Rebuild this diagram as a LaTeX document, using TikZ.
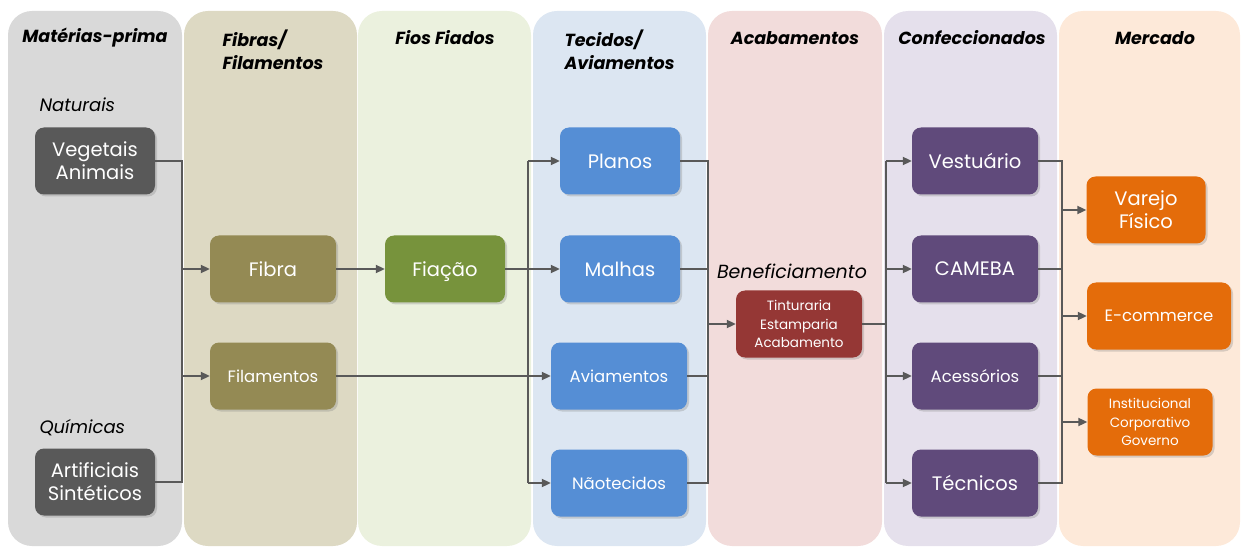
\documentclass[tikz,border=0pt]{standalone}
\usepackage{fontspec}
\setmainfont{Poppins}
\usetikzlibrary{arrows.meta,shadows}
\definecolor{linegray}{HTML}{595959}
\definecolor{lanemat}{HTML}{D9D9D9}
\definecolor{lanefib}{HTML}{DDD9C3}
\definecolor{lanefio}{HTML}{EBF1DE}
\definecolor{lanetec}{HTML}{DCE6F2}
\definecolor{laneaca}{HTML}{F2DCDB}
\definecolor{lanecon}{HTML}{E5E0EC}
\definecolor{lanemer}{HTML}{FDE9D9}
\definecolor{boxmat}{HTML}{595959}
\definecolor{boxfib}{HTML}{948A54}
\definecolor{boxfio}{HTML}{77933C}
\definecolor{boxtec}{HTML}{558ED5}
\definecolor{boxaca}{HTML}{953735}
\definecolor{boxcon}{HTML}{604A7B}
\definecolor{boxmer}{HTML}{E46C0A}

\begin{document}
\begin{tikzpicture}[x=1pt,y=-1pt,
  lane/.style={rounded corners=24pt},
  box/.style={rounded corners=9pt, text=white, align=center, inner sep=0pt,
    minimum width=120pt, minimum height=67pt,
    drop shadow={shadow xshift=2pt,shadow yshift=-2pt,opacity=0.3}},
  big/.style={font=\fontsize{19.5}{23}\selectfont},
  mid/.style={font=\fontsize{16.5}{19}\selectfont},
  small/.style={font=\fontsize{13.5}{18.5}\selectfont},
  title/.style={font=\fontsize{17.5}{23}\selectfont\bfseries\itshape, align=left},
  sub/.style={font=\fontsize{18}{20}\selectfont\itshape},
  conn/.style={draw=linegray, line width=2pt},
  arr/.style={conn, -{Triangle[length=9pt,width=8pt]}}]
  \useasboundingbox (0,0) rectangle (1243,548);

  \fill[lane, lanemat] (8,11) rectangle (182,546);
  \fill[lane, lanefib] (184,11) rectangle (357,546);
  \fill[lane, lanefio] (358,11) rectangle (531,546);
  \fill[lane, lanetec] (533,11) rectangle (706,546);
  \fill[lane, laneaca] (708,11) rectangle (882,546);
  \fill[lane, lanecon] (884,11) rectangle (1057,546);
  \fill[lane, lanemer] (1059,11) rectangle (1240,546);

  \node[title] (tmat) at (95,38) {Matérias-prima};
  \node[title, anchor=west] (tfib) at (219,49.5) {Fibras/\\Filamentos};
  \node[title] (tfio) at (445,38) {Fios Fiados};
  \node[title, anchor=west] (ttec) at (561,49.5) {Tecidos/\\Aviamentos};
  \node[title] (taca) at (795,38) {Acabamentos};
  \node[title] (tcon) at (972,38) {Confeccionados};
  \node[title] (tmer) at (1155,38) {Mercado};

  \node[sub, anchor=west] (nat) at (36,105) {Naturais};
  \node[sub, anchor=west] (qui) at (36,428) {Químicas};
  \node[sub, font=\fontsize{19}{20}\selectfont\itshape] (benef) at (792,271) {Beneficiamento};

  \node[box, big, fill=boxmat] (veg) at (95,161) {Vegetais\\Animais};
  \node[box, big, fill=boxmat] (art) at (95,482) {Artificiais\\Sintéticos};
  \node[box, big, fill=boxfib, minimum width=126pt] (fibra) at (273,269) {Fibra};
  \node[box, mid, fill=boxfib, minimum width=126pt] (filam) at (273,376) {Filamentos};
  \node[box, big, fill=boxfio] (fiacao) at (445,269) {Fia\smash{ç}ão};
  \node[box, big, fill=boxtec] (planos) at (620,161) {Planos};
  \node[box, big, fill=boxtec] (malhas) at (620,269) {Malhas};
  \node[box, mid, fill=boxtec, minimum width=136pt] (aviam) at (619,376) {Aviamentos};
  \node[box, mid, fill=boxtec, minimum width=136pt] (naot) at (619,483) {Nãotecidos};
  \node[box, small, fill=boxaca, minimum width=126pt] (tint) at (799,324) {Tinturaria\\Estamparia\\Acabamento};
  \node[box, big, fill=boxcon, minimum width=126pt] (vest) at (975,161) {Vestuário};
  \node[box, big, fill=boxcon, minimum width=126pt] (cameba) at (975,269) {CAMEBA};
  \node[box, mid, fill=boxcon, minimum width=126pt] (acess) at (975,376) {Acessórios};
  \node[box, big, fill=boxcon, minimum width=126pt] (tecn) at (975,483) {Técnicos};
  \node[box, big, fill=boxmer, minimum width=119pt] (varejo) at (1146,210) {Varejo\\Físico};
  \node[box, mid, fill=boxmer, minimum width=144pt] (ecom) at (1159,316) {E-commerce};
  \node[box, small, fill=boxmer, minimum width=125pt] (inst) at (1150,422) {Institucional\\Corporativo\\Governo};

  \coordinate (m1) at (182,0);
  \coordinate (m2) at (528,0);
  \coordinate (m3) at (708,0);
  \coordinate (m4) at (886,0);
  \coordinate (m5) at (1062,0);

  \draw[conn] (veg.east) -| (art.east -| m1) -- (art.east);
  \foreach \n in {fibra,filam}
    \draw[arr] (\n.west -| m1) -- (\n.west);
  \draw[arr] (fibra) -- (fiacao);
  \draw[arr] (fiacao) -- (malhas);
  \draw[arr] (filam) -- (aviam);

  \draw[conn] (planos.west -| m2) -- (naot.west -| m2);
  \foreach \n in {planos,naot}
    \draw[arr] (\n.west -| m2) -- (\n.west);

  \draw[conn] (planos.east) -| (naot.east -| m3) -- (naot.east);
  \foreach \n in {malhas,aviam}
    \draw[conn] (\n.east) -- (\n.east -| m3);
  \draw[arr] (tint.west -| m3) -- (tint.west);

  \draw[conn] (tint.east) -- (tint.east -| m4);
  \draw[conn] (vest.west -| m4) -- (tecn.west -| m4);
  \foreach \n in {vest,cameba,acess,tecn}
    \draw[arr] (\n.west -| m4) -- (\n.west);

  \draw[conn] (vest.east) -| (tecn.east -| m5) -- (tecn.east);
  \foreach \n in {cameba,acess}
    \draw[conn] (\n.east) -- (\n.east -| m5);
  \foreach \n in {varejo,ecom,inst}
    \draw[arr] (\n.west -| m5) -- (\n.west);

\end{tikzpicture}
\end{document}
